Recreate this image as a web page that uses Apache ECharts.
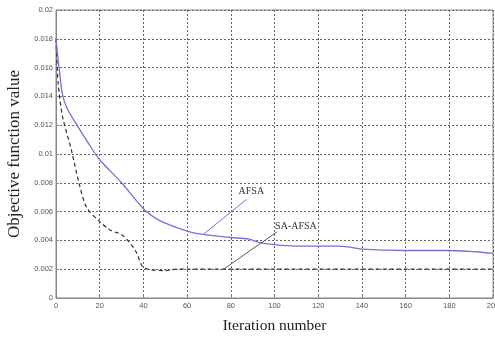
<!DOCTYPE html>
<html>
<head>
<meta charset="utf-8">
<script src="https://cdn.jsdelivr.net/npm/echarts@6/dist/echarts.min.js"></script>
<style>
  html, body { margin: 0; padding: 0; background: #fff; }
  #chart { width: 495px; height: 337px; }
</style>
</head>
<body>
<div id="chart"></div>
<script>
// iteration numbers and objective values
var afsaX = [0, 1, 2, 3, 5, 10, 15, 20, 30, 40, 45, 50, 60, 68, 80, 88, 92, 100, 110, 120, 130, 140, 160, 180, 200];
var afsaY = [0.018, 0.0165, 0.0152, 0.0141, 0.0132, 0.0119, 0.0107, 0.0096, 0.008, 0.0062, 0.0056, 0.0052, 0.00465, 0.0044, 0.0042, 0.0041, 0.0039, 0.0037, 0.0036, 0.0036, 0.0036, 0.0034, 0.0033, 0.0033, 0.0031];
var saX = [0, 1, 3, 7, 10.5, 14, 20, 25, 30, 34, 37, 39.5, 42, 50, 55, 60, 80, 100, 200];
var saY = [0.018, 0.0149, 0.0126, 0.0103, 0.008, 0.0063, 0.0053, 0.0047, 0.0044, 0.0038, 0.0031, 0.0022, 0.002, 0.0019, 0.002, 0.002, 0.002, 0.002, 0.002];
// annotation pointer lines: [start, end]
var afsaPointer = [[67.6, 0.00444], [87.2, 0.00685]];
var saPointer = [[76.7, 0.002], [101.2, 0.0046]];

var blue = '#7272d8';

function pairs(xs, ys) {
  return xs.map(function (x, i) { return [x, ys[i]]; });
}

var chart = echarts.init(document.getElementById('chart'));
var tickFont = { fontFamily: 'Liberation Sans, Arial, sans-serif', fontSize: 7.5, color: '#555' };
var serif = 'Liberation Serif, Times New Roman, serif';

chart.setOption({
  animation: false,
  grid: {
    left: 56, right: 2, top: 10, bottom: 39, outerBoundsMode: 'none', containLabel: false,
    show: true, borderColor: '#888', borderWidth: 1
  },
  xAxis: {
    type: 'value', min: 0, max: 200, interval: 20,
    name: 'Iteration number', nameLocation: 'middle', nameGap: 20,
    nameTextStyle: { fontFamily: serif, fontSize: 15.5, color: '#222' },
    axisLine: { show: true, lineStyle: { color: '#888' } },
    axisTick: { show: true, inside: true, length: 3, lineStyle: { color: '#888' } },
    axisLabel: Object.assign({ margin: 4 }, tickFont),
    splitLine: { show: true, lineStyle: { type: [2, 2], color: '#666', width: 1 } }
  },
  yAxis: {
    type: 'value', min: 0, max: 0.02, interval: 0.002,
    name: 'Objective function value', nameLocation: 'middle', nameGap: 33,
    nameTextStyle: { fontFamily: serif, fontSize: 17, color: '#222' },
    axisLine: { show: true, lineStyle: { color: '#888' } },
    axisTick: { show: true, inside: true, length: 3, lineStyle: { color: '#888' } },
    axisLabel: Object.assign({ margin: 3 }, tickFont),
    splitLine: { show: true, lineStyle: { type: [2, 2], color: '#666', width: 1 } }
  },
  series: [
    {
      name: 'AFSA', type: 'line', data: pairs(afsaX, afsaY), smooth: 0.3,
      showSymbol: false, lineStyle: { color: blue, width: 1.3 }, z: 3
    },
    {
      name: 'SA-AFSA', type: 'line', data: pairs(saX, saY), smooth: 0.3,
      showSymbol: false, lineStyle: { color: '#333', width: 1.2, type: [4, 3] }, z: 2
    },
    {
      type: 'line', data: afsaPointer, symbol: 'none',
      lineStyle: { color: blue, width: 1 },
      endLabel: {
        show: true, formatter: 'AFSA', offset: [-16, -8],
        fontFamily: serif, fontSize: 10, color: '#333'
      }
    },
    {
      type: 'line', data: saPointer, symbol: 'none',
      lineStyle: { color: '#555', width: 1 },
      endLabel: {
        show: true, formatter: 'SA-AFSA', offset: [-10, -5],
        fontFamily: serif, fontSize: 10, color: '#333'
      }
    }
  ]
});
</script>
</body>
</html>
